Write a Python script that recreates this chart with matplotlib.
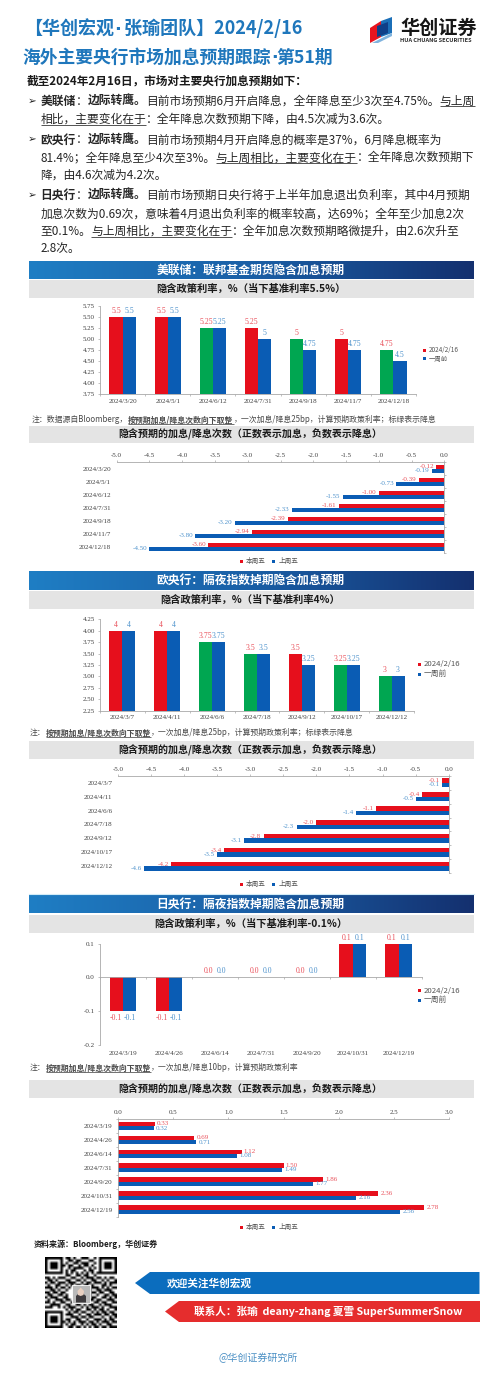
import numpy as np
import matplotlib
matplotlib.use('Agg')
import matplotlib.pyplot as plt
from matplotlib.colors import LinearSegmentedColormap
from matplotlib.patches import Polygon, Rectangle

CJK = ['Noto Sans CJK SC', 'DejaVu Sans']
SERIF = 'Liberation Serif'
plt.rcParams['font.family'] = CJK
plt.rcParams['axes.unicode_minus'] = False

W, H = 500, 1374
RED, BLUE, GREEN = '#E60F1C', '#0A5CB4', '#00A651'
LRED, LBLUE = '#E9505A', '#4F93CC'
AXC = '#A8A8A8'

# ---------- data ----------
fed_dates = ['2024/3/20', '2024/5/1', '2024/6/12', '2024/7/31', '2024/9/18', '2024/11/7', '2024/12/18']
fed_base = 5.5
fed_now = [5.5, 5.5, 5.25, 5.25, 5, 5, 4.75]
fed_prev = [5.5, 5.5, 5.25, 5, 4.75, 4.75, 4.5]
fed_count_now = [-0.12, -0.39, -1.00, -1.61, -2.39, -2.94, -3.60]
fed_count_prev = [-0.19, -0.73, -1.55, -2.33, -3.20, -3.80, -4.50]

ecb_dates = ['2024/3/7', '2024/4/11', '2024/6/6', '2024/7/18', '2024/9/12', '2024/10/17', '2024/12/12']
ecb_base = 4
ecb_now = [4, 4, 3.75, 3.5, 3.5, 3.25, 3]
ecb_prev = [4, 4, 3.75, 3.5, 3.25, 3.25, 3]
ecb_count_now = [-0.1, -0.4, -1.1, -2.0, -2.8, -3.4, -4.2]
ecb_count_prev = [-0.1, -0.5, -1.4, -2.3, -3.1, -3.5, -4.6]

boj_dates = ['2024/3/19', '2024/4/26', '2024/6/14', '2024/7/31', '2024/9/20', '2024/10/31', '2024/12/19']
boj_now = [-0.1, -0.1, 0.0, 0.0, 0.0, 0.1, 0.1]
boj_prev = [-0.1, -0.1, 0.0, 0.0, 0.0, 0.1, 0.1]
boj_count_now = [0.33, 0.69, 1.12, 1.50, 1.86, 2.36, 2.78]
boj_count_prev = [0.32, 0.71, 1.08, 1.49, 1.77, 2.16, 2.56]

QR = """
1111111011010011100101111111
1000001001101100011001000001
1011101010011011100101011101
1011101101100101101001011101
1011101001011110010101011101
1000001010110001011001000001
1111111010101010101011111111
0000000011001101100100000000
1101011100110010111011010110
0110100011001101001100101001
1011011101110010110111010111
0100110010101101101000110100
1110101101000000001110101011
0011010010000000010011011100
1101101100000000001101100110
0110011010000000010010011011
1011100110000000001100110101
0100111011000000011011001110
1101001100111010100110110011
0011110011001101011001011100
1110010101110010101110100111
0000000010101100110101101001
1111111001011011001010110110
1000001011100100110111011011
1011101000111011011000100101
1011101011001100100111010110
1011101101010111011010111011
1000001010110010101101001100
1111111001101101010110110111
"""

# ---------- canvas ----------
fig = plt.figure(figsize=(W / 100, H / 100), dpi=100, facecolor='white')
bg = fig.add_axes([0, 0, 1, 1], zorder=0)
bg.axis('off')
renderer = fig.canvas.get_renderer()


def ptext(x, y, s, size, color='#222222', bold=False, ha='left', va='center', family=None, **kw):
    return bg.text(x, y, s, fontsize=size, color=color, fontweight='bold' if bold else 'normal',
                   ha=ha, va=va, family=family or CJK, **kw)


def measure(s, size, bold):
    a = bg.text(0, 0, '|' + s + '|', fontsize=size, fontweight='bold' if bold else 'normal', family=CJK)
    b = bg.text(0, 0, '||', fontsize=size, fontweight='bold' if bold else 'normal', family=CJK)
    w = a.get_window_extent(renderer).width - b.get_window_extent(renderer).width
    a.remove(); b.remove()
    return w


def runs(x, y, segs, size, color='#262626'):
    """Draw a line of mixed runs: style is n (normal), b (bold), u (underline), B (bold underline)."""
    for style, s in segs:
        bold = style in 'bB'
        ptext(x, y, s, size, color=color, bold=bold, va='baseline')
        w = measure(s, size, bold)
        if style in 'uB':
            bg.plot([x, x + w], [y + 1.6, y + 1.6], color=color, lw=0.55, solid_capstyle='butt')
        x += w


def title_line(x, y, parts, size, color):
    """Bold title pieces joined by a narrow middle dot instead of the full-width CJK one."""
    for i, s in enumerate(parts):
        ptext(x, y + 4.5, s, size, color=color, bold=True, va='baseline')
        x += measure(s, size, True)
        if i < len(parts) - 1:
            ptext(x + 0.5, y + 4.5, '·', size, color=color, bold=True, va='baseline', family=['DejaVu Sans'])
            x += 5.5


def add_box(x0, y0, x1, y1):
    ax = fig.add_axes([x0 / W, 1 - y1 / H, (x1 - x0) / W, (y1 - y0) / H], zorder=2)
    ax.patch.set_alpha(0)
    return ax


cmap = LinearSegmentedColormap.from_list('hdr', ['#1F7EC4', '#1A5FA6', '#14306F'])


def header(y0, y1, title):
    bg.imshow(np.linspace(0, 1, 256)[None, :], extent=(28.5, 473.5, y1, y0), cmap=cmap, aspect='auto', zorder=1)
    ptext(250.5, (y0 + y1) / 2, title, 8.5, color='white', bold=True, ha='center', zorder=3)


def band(y0, y1, title, size):
    bg.add_patch(Rectangle((28.5, y0), 445, y1 - y0, fc='#E4E4E4', ec='none', zorder=1))
    ptext(250.5, (y0 + y1) / 2, title, size, color='#1A1A1A', bold=True, ha='center', zorder=3)


def rate_chart(box, dates, now, prev, base, ylim, yticks, fmt):
    ax = add_box(*box)
    x = np.arange(len(dates))
    w = 0.29
    # green marks a meeting at which a cut is newly priced
    last = [base] + list(now[:-1])
    cols = [GREEN if n < l else RED for n, l in zip(now, last)]
    ax.bar(x - w / 2, now, w, color=cols, zorder=2)
    ax.bar(x + w / 2, prev, w, color=BLUE, zorder=2)
    ax.set_xlim(-0.5, len(dates) - 0.5)
    ax.set_ylim(*ylim)
    ax.set_yticks(yticks)
    ax.set_yticklabels([fmt.format(t) for t in yticks], family=SERIF, fontsize=5, color='#404040')
    ax.set_xticks(np.arange(len(dates) + 1) - 0.5)
    ax.set_xticklabels([])
    ax.set_xticks(x, minor=True)
    ax.set_xticklabels(dates, minor=True, family=SERIF, fontsize=5, color='#404040')
    ax.tick_params(axis='x', which='minor', length=0, pad=3.2)
    ax.tick_params(axis='x', which='major', length=1.6, width=0.5, color=AXC)
    ax.tick_params(axis='y', length=1.6, width=0.5, color=AXC, pad=2)
    for s in ('top', 'right'):
        ax.spines[s].set_visible(False)
    for s in ('left', 'bottom'):
        ax.spines[s].set_color(AXC)
        ax.spines[s].set_linewidth(0.6)
    return ax, x, w


def label_rates(ax, x, w, now, prev, fmt):
    for xs, vals, c in ((x - w / 2, now, LRED), (x + w / 2, prev, LBLUE)):
        for xi, v in zip(xs, vals):
            off = -4.8 if v < 0 else 4.3
            ax.annotate(fmt.format(v), (xi, v), xytext=(0, off), textcoords='offset points',
                        ha='center', va='center', family=SERIF, fontsize=5.6, color=c, zorder=5,
                        annotation_clip=False)


def count_chart(box, dates, now, prev, xlim, xticks, fmt, side):
    ax = add_box(*box)
    y = np.arange(len(dates))
    h = 0.31
    ax.barh(y - h / 2, now, h, color=RED, zorder=2)
    ax.barh(y + h / 2, prev, h, color=BLUE, zorder=2)
    ax.set_xlim(*xlim)
    ax.set_ylim(len(dates) - 0.5, -0.5)
    ax.xaxis.tick_top()
    ax.set_xticks(xticks)
    ax.set_xticklabels(['{:.1f}'.format(t) for t in xticks], family=SERIF, fontsize=5, color='#404040')
    ax.tick_params(axis='x', length=1.6, width=0.5, color=AXC, pad=1.2)
    ax.set_yticks(y)
    ax.set_yticklabels(dates, family=SERIF, fontsize=5, color='#404040')
    ax.tick_params(axis='y', which='major', length=0, pad=4)
    ax.set_yticks(np.arange(len(dates) + 1) - 0.5, minor=True)
    ax.tick_params(axis='y', which='minor', length=1.6, width=0.5, color=AXC,
                   left=side == 'left', right=side == 'right')
    ax.spines['bottom'].set_visible(False)
    ax.spines['left' if side == 'right' else 'right'].set_visible(False)
    ax.spines[side].set_color(AXC)
    ax.spines[side].set_linewidth(0.6)
    ax.spines['top'].set_color(AXC)
    ax.spines['top'].set_linewidth(0.6)
    sgn = 1 if side == 'left' else -1
    ha = 'left' if side == 'left' else 'right'
    for ys, vals, c in ((y - h / 2, now, LRED), (y + h / 2, prev, LBLUE)):
        for yi, v in zip(ys, vals):
            ax.annotate(fmt.format(v), (v, yi), xytext=(sgn * 1.6, 0), textcoords='offset points',
                        ha=ha, va='center', family=SERIF, fontsize=5, color=c, zorder=5)
    return ax


def rate_legend(x, y1, y2, size, labels):
    for yy, c, s in ((y1, RED, labels[0]), (y2, BLUE, labels[1])):
        bg.add_patch(Rectangle((x - 1.5, yy - 1.5), 3, 3, fc=c, ec='none', zorder=3))
        ptext(x + 4, yy, s, size, color='#555555', zorder=3)


def count_legend(y):
    for x, c, s in ((241, RED, '本周五'), (273.5, BLUE, '上周五')):
        bg.add_patch(Rectangle((x - 1.5, y - 1.5), 3, 3, fc=c, ec='none', zorder=3))
        ptext(x + 5, y, s, 4.8, color='#555555', zorder=3)


def note(y, segs, x=30):
    runs(x, y + 2.2, segs, 5.67, color='#4A4A4A')


# ---------- top ----------
title_line(24, 30, ['【华创宏观', ' 张瑜团队】2024/2/16'], 13, '#1F77BC')
title_line(22, 58, ['海外主要央行市场加息预期跟踪', '第51期'], 12.8, '#1F77BC')

# logo
bg.add_patch(Polygon([(370, 28), (381, 21), (381, 37), (370, 43)], fc='#E8141E', ec='none'))
bg.add_patch(Polygon([(381, 21), (392, 17), (392, 33), (381, 37)], fc='#1B6FB8', ec='none'))
bg.add_patch(Polygon([(377, 26), (388, 22), (388, 33), (377, 37)], fc='#0F3F88', ec='none'))
bg.add_patch(Polygon([(372, 43), (392, 33), (392, 36), (378, 43)], fc='#7FB3DE', ec='none'))
ptext(400, 28, '华创证券', 13.8, color='#161616', bold=True)
ptext(400, 40, 'HUA CHUANG SECURITIES', 4.05, color='#2A2A2A', bold=True)

ptext(27, 81, '截至2024年2月16日，市场对主要央行加息预期如下：', 8.4, color='#1A1A1A', bold=True)

SZ = 8.48
body = [
    (100.7, True, [('b', '美联储'), ('n', '：'), ('b', '边际转鹰。'), ('n', '目前市场预期6月开启降息，全年降息至少3次至4.75%。'), ('u', '与上周')]),
    (119.0, False, [('u', '相比，主要变化在于'), ('n', '：全年降息次数预期下降，由4.5次减为3.6次。')]),
    (139.3, True, [('b', '欧央行'), ('n', '：'), ('b', '边际转鹰。'), ('n', '目前市场预期4月开启降息的概率是37%，6月降息概率为')]),
    (157.3, False, [('n', '81.4%；全年降息至少4次至3%。'), ('u', '与上周相比，主要变化在于'), ('n', '：全年降息次数预期下')]),
    (174.7, False, [('n', '降，由4.6次减为4.2次。')]),
    (195.0, True, [('b', '日央行'), ('n', '：'), ('b', '边际转鹰。'), ('n', '目前市场预期日央行将于上半年加息退出负利率，其中4月预期')]),
    (213.3, False, [('n', '加息次数为0.69次，意味着4月退出负利率的概率较高，达69%；全年至少加息2次')]),
    (231.0, False, [('n', '至0.1%。'), ('u', '与上周相比，主要变化在于'), ('n', '：全年加息次数预期略微提升，由2.6次升至')]),
    (248.3, False, [('n', '2.8次。')]),
]
for yy, bullet, segs in body:
    if bullet:
        ptext(28, yy, '➢', 7.5, color='#222222', family=['DejaVu Sans'])
    runs(40.5, yy + 4, segs, SZ)

# ---------- Fed ----------
T2 = '隐含预期的加息/降息次数（正数表示加息，负数表示降息）'
header(261, 279, '美联储：联邦基金期货隐含加息预期')
band(280, 297.5, '隐含政策利率，%（当下基准利率5.5%）', 7.4)
ax, x, w = rate_chart((100, 305.7, 416, 394.3), fed_dates, fed_now, fed_prev, fed_base,
                      (3.75, 5.75), np.arange(3.75, 5.76, 0.25), '{:.2f}')
label_rates(ax, x, w, fed_now, fed_prev, '{:g}')
rate_legend(424.5, 350, 358.5, 4.6, ['2024/2/16', '一周前'])
note(420, [('n', '注：数据源自Bloomberg，'), ('B', '按预期加息/降息次数向下取整'),
           ('n', '，一次加息/降息25bp，计算预期政策利率；标绿表示降息')], x=32)
band(425.7, 443, T2, 7.2)
count_chart((116.7, 462.3, 444.3, 553.3), fed_dates, fed_count_now, fed_count_prev,
            (-5, 0), np.arange(-5, 0.1, 0.5), '{:.2f}', 'right')
count_legend(561)

# ---------- ECB ----------
header(571, 590, '欧央行：隔夜指数掉期隐含加息预期')
band(591, 609, '隐含政策利率，%（当下基准利率4%）', 7.4)
ax, x, w = rate_chart((100, 619.3, 414, 710.7), ecb_dates, ecb_now, ecb_prev, ecb_base,
                      (2.25, 4.25), np.arange(2.25, 4.26, 0.25), '{:.2f}')
label_rates(ax, x, w, ecb_now, ecb_prev, '{:g}')
rate_legend(419.5, 664.3, 674.3, 5.6, ['2024/2/16', '一周前'])
note(733, [('n', '注：'), ('B', '按预期加息/降息次数向下取整'),
           ('n', '，一次加息/降息25bp，计算预期政策利率；标绿表示降息')])
band(741, 759, T2, 7.2)
count_chart((118, 775.7, 448.7, 873.3), ecb_dates, ecb_count_now, ecb_count_prev,
            (-5, 0), np.arange(-5, 0.1, 0.5), '{:.1f}', 'right')
count_legend(884)
bg.plot([28.5, 473.5], [894, 894], color='#D2ECF8', lw=0.8)

# ---------- BOJ ----------
header(895, 913, '日央行：隔夜指数掉期隐含加息预期')
band(915, 932.5, '隐含政策利率，%（当下基准利率-0.1%）', 7.4)
ax, x, w = rate_chart((100, 943.7, 421.7, 1044.7), boj_dates, boj_now, boj_prev, boj_now[0],
                      (-0.2, 0.1), [-0.2, -0.1, 0.0, 0.1], '{:.1f}')
ax.spines['bottom'].set_position(('data', 0))
ax.tick_params(axis='x', which='minor', labelbottom=False)
for xi, d in zip(x, boj_dates):
    ax.annotate(d, (xi, -0.2), xytext=(0, -6), textcoords='offset points', ha='center', va='center',
                family=SERIF, fontsize=5, color='#404040', annotation_clip=False)
label_rates(ax, x, w, boj_now, boj_prev, '{:.1f}')
rate_legend(419.5, 990.7, 1000.3, 5.6, ['2024/2/16', '一周前'])
note(1068, [('n', '注：'), ('B', '按预期加息/降息次数向下取整'),
            ('n', '，一次加息/降息10bp，计算预期政策利率')])
band(1080, 1098, T2, 7.2)
count_chart((118.3, 1119, 448.7, 1216.5), boj_dates, boj_count_now, boj_count_prev,
            (0, 3), np.arange(0, 3.1, 0.5), '{:.2f}', 'left')
count_legend(1227)

# ---------- footer ----------
ptext(34, 1244, '资料来源：Bloomberg，华创证券', 5.8, color='#1A1A1A', bold=True)
qr = np.array([[int(c) for c in row] for row in QR.split()])
bg.imshow(1 - qr, extent=(45, 116.5, 1328.5, 1258), cmap='gray', vmin=0, vmax=1, aspect='auto',
          interpolation='bilinear', zorder=1)
bg.add_patch(Rectangle((72, 1285), 17.5, 17.5, fc='#B9B9B9', ec='white', lw=0.6, zorder=2))
bg.add_patch(Polygon([(76, 1302.5), (76, 1296), (79, 1293), (82.5, 1293), (86, 1296), (86, 1302.5)],
                     fc='#3D3A3D', ec='none', zorder=3))
bg.add_patch(Polygon([(77.5, 1291), (80.7, 1287.5), (84, 1291), (83.5, 1295), (80.7, 1296), (78, 1295)],
                     fc='#E8CFC0', ec='none', zorder=4))
bg.add_patch(Polygon([(135, 1283), (150, 1272), (479.5, 1272), (479.5, 1294), (150, 1294)], fc='#0B6DBE', ec='none'))
bg.add_patch(Polygon([(165, 1311.5), (179, 1301), (480, 1301), (480, 1322), (179, 1322)], fc='#E52D2D', ec='none'))
ptext(166.7, 1283, '欢迎关注华创宏观', 7.7, color='white', bold=True, zorder=3)
ptext(193.5, 1311, '联系人：张瑜  deany-zhang 夏雪 SuperSummerSnow', 7.7, color='white', bold=True, zorder=3)
ptext(258, 1358, '@华创证券研究所', 7.2, color='#4A8FC4', ha='center')

bg.set_xlim(0, W)
bg.set_ylim(H, 0)
fig.savefig('out.png', dpi=100, facecolor='white')
